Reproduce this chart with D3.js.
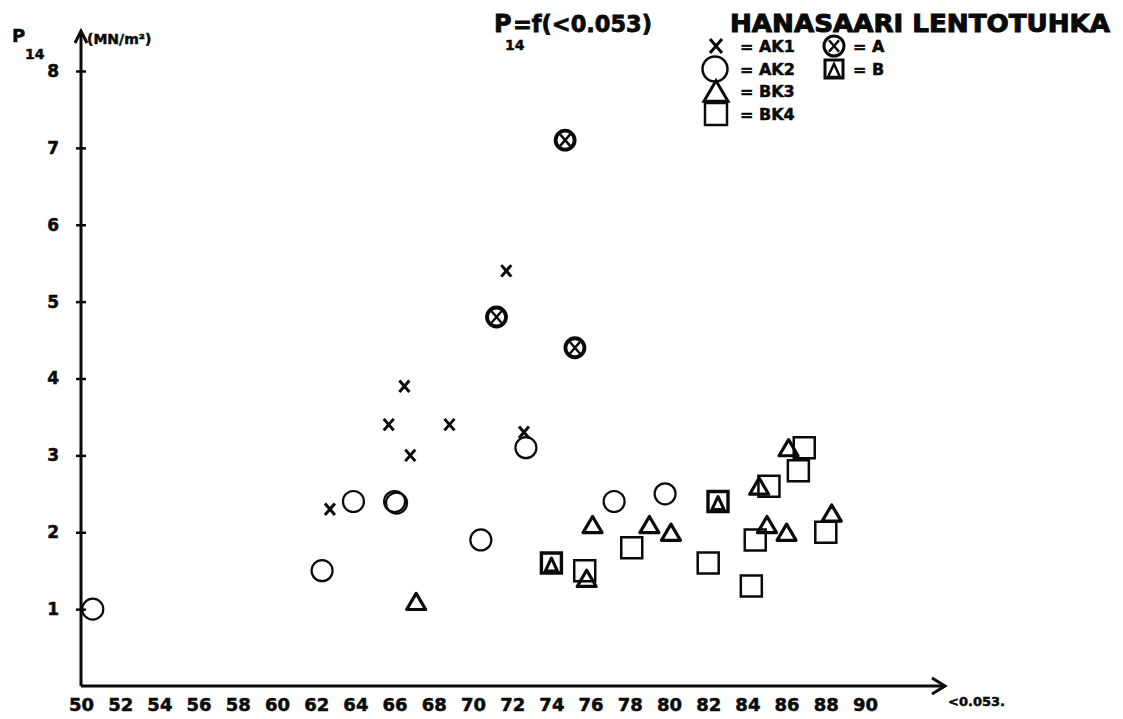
<!DOCTYPE html>
<html>
<head>
<meta charset="utf-8">
<script src="https://cdn.jsdelivr.net/npm/d3@7"></script>
<style>
  body { margin: 0; background: #fff; }
  svg { display: block; }
  text { font-family: "DejaVu Sans", "Liberation Sans", sans-serif; font-weight: bold; fill: #0a0a0a; stroke: #0a0a0a; stroke-width: 0.5px; }
</style>
</head>
<body>
<svg id="chart" width="1123" height="719"></svg>
<script>
// tick labels
var xTicks = [50, 52, 54, 56, 58, 60, 62, 64, 66, 68, 70, 72, 74, 76, 78, 80, 82, 84, 86, 88, 90];
var yTicks = [1, 2, 3, 4, 5, 6, 7, 8];

// series: [<0.053 , P14]
var ak1 = [[62.7, 2.3], [65.7, 3.4], [66.5, 3.9], [66.8, 3.0], [68.8, 3.4], [71.7, 5.4], [72.6, 3.3]];
var ak2 = [[50.6, 1.0], [62.3, 1.5], [63.9, 2.4], [66.0, 2.4], [66.1, 2.38], [70.4, 1.9], [72.7, 3.1], [77.2, 2.4], [79.8, 2.5]];
var bk3 = [[67.1, 1.1], [75.8, 1.4], [76.1, 2.1], [79.0, 2.1], [80.1, 2.0], [84.6, 2.6], [85.0, 2.1], [86.0, 2.0], [86.1, 3.1], [88.3, 2.25]];
var bk4 = [[75.7, 1.5], [78.1, 1.8], [82.0, 1.6], [84.2, 1.3], [84.4, 1.9], [85.1, 2.6], [86.6, 2.8], [86.9, 3.1], [88.0, 2.0]];
var serA = [[74.7, 7.1], [71.2, 4.8], [75.2, 4.4]];
var serB = [[74.0, 1.6], [82.5, 2.4]];

var width = 1123,
    height = 719;

var x = d3.scaleLinear().domain([50, 90]).range([81, 865]);
var y = d3.scaleLinear().domain([0, 8]).range([686, 71]);

var svg = d3.select("#chart");
svg.append("rect").attr("width", width).attr("height", height).attr("fill", "#fff");

var ink = "#0a0a0a";

// shape paths centred on 0,0
function crossPath(s) {
  var h = s * 1.15;
  return "M" + (-s) + "," + (-h) + "L" + s + "," + h + "M" + s + "," + (-h) + "L" + (-s) + "," + h;
}
function triPath(w) {
  var h = w * 0.85;
  return "M0," + (-h / 2) + "L" + (w / 2) + "," + (h / 2) + "L" + (-w / 2) + "," + (h / 2) + "Z";
}
function squarePath(w) {
  return "M" + (-w / 2) + "," + (-w / 2) + "h" + w + "v" + w + "h" + (-w) + "Z";
}
function pos(d) { return "translate(" + x(d[0]) + "," + y(d[1]) + ")"; }

// ---- axes ----
var yAxis = svg.append("g")
  .attr("transform", "translate(" + x(50) + ",0)")
  .call(d3.axisLeft(y).tickValues(yTicks).tickSize(5).tickPadding(17).tickFormat(d3.format("d")));
yAxis.select(".domain").remove();
yAxis.selectAll("line").attr("x1", 5).attr("stroke", ink).attr("stroke-width", 2.5);
yAxis.selectAll("text").style("font-size", "17px");

var xAxis = svg.append("g")
  .attr("transform", "translate(0," + y(0) + ")")
  .call(d3.axisBottom(x).tickValues(xTicks).tickSize(0).tickPadding(12).tickFormat(d3.format("d")));
xAxis.select(".domain").remove();
xAxis.selectAll("text").style("font-size", "18px");

// axis lines with arrows
var x0 = x(50), yBase = y(0), xEnd = x(90) + 80, yTop = 31;
svg.append("path")
  .attr("d", "M" + x0 + "," + yBase + "L" + xEnd + "," + yBase)
  .attr("stroke", ink).attr("stroke-width", 2.8).attr("fill", "none");
svg.append("path")
  .attr("d", "M" + (xEnd - 13) + "," + (yBase - 8) + "L" + xEnd + "," + yBase + "L" + (xEnd - 13) + "," + (yBase + 8))
  .attr("stroke", ink).attr("stroke-width", 3).attr("fill", "none");
svg.append("path")
  .attr("d", "M" + x0 + "," + yBase + "L" + x0 + "," + yTop)
  .attr("stroke", ink).attr("stroke-width", 3).attr("fill", "none");
svg.append("path")
  .attr("d", "M" + (x0 - 6) + "," + (yTop + 12) + "L" + x0 + "," + yTop + "L" + (x0 + 6) + "," + (yTop + 12))
  .attr("stroke", ink).attr("stroke-width", 3).attr("fill", "none");

// axis titles
svg.append("text").attr("x", 12).attr("y", 42).style("font-size", "18px").text("P");
svg.append("text").attr("x", 25).attr("y", 59).style("font-size", "14px").text("14");
svg.append("text").attr("x", 87).attr("y", 44).style("font-size", "14px").text("(MN/m²)");
svg.append("text").attr("x", xEnd + 3).attr("y", 706).style("font-size", "13px").text("<0.053.");

// title
svg.append("text").attr("x", 494).attr("y", 32).style("font-size", "24px").style("stroke-width", "0.8px").text("P");
svg.append("text").attr("x", 505).attr("y", 50).style("font-size", "14px").text("14");
svg.append("text").attr("x", 513).attr("y", 32).style("font-size", "23px").style("stroke-width", "0.8px")
  .attr("textLength", 139).attr("lengthAdjust", "spacingAndGlyphs").text("=f(<0.053)");
svg.append("text").attr("x", 730).attr("y", 32).style("font-size", "24px").style("stroke-width", "1px")
  .attr("textLength", 380).attr("lengthAdjust", "spacingAndGlyphs").text("HANASAARI LENTOTUHKA");

// ---- data marks ----
var marks = svg.append("g").attr("fill", "none").attr("stroke", ink);

marks.selectAll(".ak1").data(ak1).enter().append("path")
  .attr("class", "ak1")
  .attr("transform", pos)
  .attr("d", crossPath(5))
  .attr("stroke-width", 3);

marks.selectAll(".ak2").data(ak2).enter().append("circle")
  .attr("class", "ak2")
  .attr("cx", function(d) { return x(d[0]); })
  .attr("cy", function(d) { return y(d[1]); })
  .attr("r", 10.5)
  .attr("stroke-width", 2.2);

marks.selectAll(".bk3").data(bk3).enter().append("path")
  .attr("class", "bk3")
  .attr("transform", pos)
  .attr("d", triPath(19))
  .attr("stroke-width", 3.2)
  .attr("stroke-linejoin", "round");

marks.selectAll(".bk4").data(bk4).enter().append("path")
  .attr("class", "bk4")
  .attr("transform", pos)
  .attr("d", squarePath(21))
  .attr("stroke-width", 2.5);

var gA = marks.selectAll(".serA").data(serA).enter().append("g")
  .attr("class", "serA")
  .attr("transform", pos);
gA.append("circle").attr("r", 9.5).attr("stroke-width", 3.8);
gA.append("path").attr("d", crossPath(5)).attr("stroke-width", 2.5);

var gB = marks.selectAll(".serB").data(serB).enter().append("g")
  .attr("class", "serB")
  .attr("transform", pos);
gB.append("path").attr("d", squarePath(20)).attr("stroke-width", 3.4);
gB.append("path").attr("d", "M0,-5L6,8L-6,8Z").attr("stroke-width", 3).attr("stroke-linejoin", "round");

// ---- legend ----
var legend = svg.append("g").attr("fill", "none").attr("stroke", ink);
legend.append("path").attr("transform", "translate(716,46)").attr("d", crossPath(6)).attr("stroke-width", 3);
legend.append("circle").attr("cx", 715).attr("cy", 69).attr("r", 12.5).attr("stroke-width", 2.5);
legend.append("path").attr("transform", "translate(716,91)").attr("d", triPath(24)).attr("stroke-width", 3);
legend.append("path").attr("transform", "translate(716,114)").attr("d", squarePath(22)).attr("stroke-width", 2.5);
legend.append("circle").attr("cx", 834).attr("cy", 46).attr("r", 10).attr("stroke-width", 3);
legend.append("path").attr("transform", "translate(834,46)").attr("d", crossPath(5)).attr("stroke-width", 2.5);
legend.append("path").attr("transform", "translate(834,69)").attr("d", squarePath(18)).attr("stroke-width", 3);
legend.append("path").attr("transform", "translate(834,69)").attr("d", "M0,-5L6,8L-6,8Z").attr("stroke-width", 2.5);

var legendText = [
  { t: "= AK1", x: 740, y: 52 },
  { t: "= AK2", x: 740, y: 75 },
  { t: "= BK3", x: 740, y: 97 },
  { t: "= BK4", x: 740, y: 120 },
  { t: "= A", x: 853, y: 52 },
  { t: "= B", x: 853, y: 75 }
];
svg.selectAll(".legtext").data(legendText).enter().append("text")
  .attr("class", "legtext")
  .attr("x", function(d) { return d.x; })
  .attr("y", function(d) { return d.y; })
  .style("font-size", "16px")
  .text(function(d) { return d.t; });
</script>
</body>
</html>
